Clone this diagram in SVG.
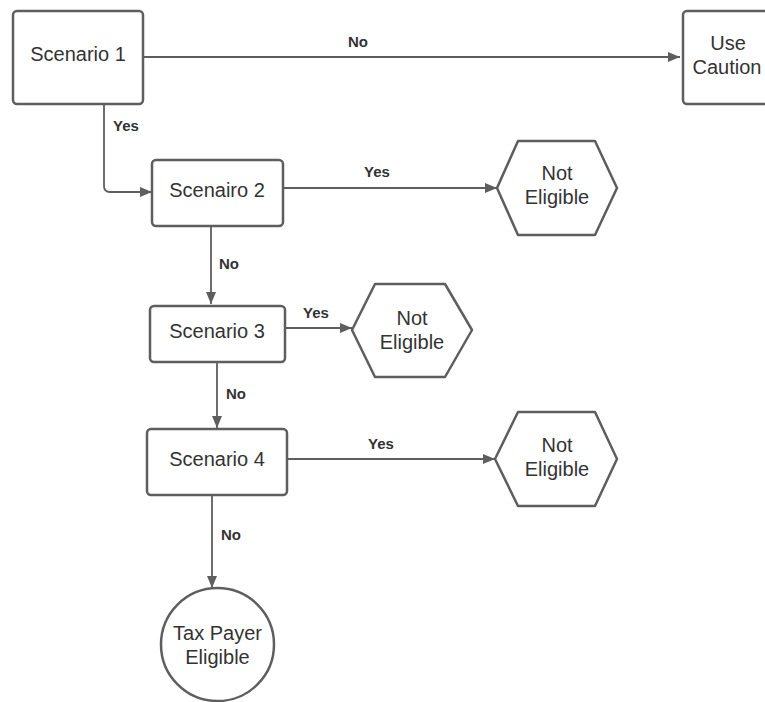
<svg xmlns="http://www.w3.org/2000/svg" width="765" height="702" viewBox="0 0 765 702">
<style>
.box{fill:#fff;stroke:#5e5e5e;stroke-width:2.5;stroke-linejoin:round}
.ln{fill:none;stroke:#5e5e5e;stroke-width:1.8}
.t{font-family:"Liberation Sans",Arial,sans-serif;font-size:20px;fill:#333;text-anchor:middle}
.lb{font-family:"Liberation Sans",Arial,sans-serif;font-size:15px;font-weight:bold;fill:#333;text-anchor:middle}
</style>
<defs>
<marker id="ah" viewBox="0 0 12 10" refX="12" refY="5" markerWidth="12" markerHeight="10" markerUnits="userSpaceOnUse" orient="auto">
<path d="M0,0 L12,5 L0,10 Z" fill="#5e5e5e"/>
</marker>
</defs>
<rect width="765" height="702" fill="#fff"/>
<g id="connectors">
<path class="ln" d="M143,57 H680" marker-end="url(#ah)"/>
<path class="ln" d="M104,104 V186 Q104,192 110,192 H152" marker-end="url(#ah)"/>
<path class="ln" d="M283,188 H497" marker-end="url(#ah)"/>
<path class="ln" d="M211,226 V304" marker-end="url(#ah)"/>
<path class="ln" d="M285,328 H352" marker-end="url(#ah)"/>
<path class="ln" d="M217,362 V428" marker-end="url(#ah)"/>
<path class="ln" d="M287,459 H495" marker-end="url(#ah)"/>
<path class="ln" d="M212,487 V588" marker-end="url(#ah)"/>
<text class="lb" x="358" y="47">No</text>
<text class="lb" x="126" y="131">Yes</text>
<text class="lb" x="377" y="177">Yes</text>
<text class="lb" x="229" y="269">No</text>
<text class="lb" x="316" y="318">Yes</text>
<text class="lb" x="236" y="399">No</text>
<text class="lb" x="381" y="449">Yes</text>
<text class="lb" x="231" y="540">No</text>
</g>
<g id="scenario1">
<rect class="box" x="13" y="11" width="130" height="93" rx="4"/>
<text class="t" x="78" y="61">Scenario 1</text>
</g>
<g id="use-caution">
<rect class="box" x="683" y="11" width="89" height="93" rx="4"/>
<text class="t" x="728" y="50">Use</text>
<text class="t" x="727" y="74">Caution</text>
</g>
<g id="scenario2">
<rect class="box" x="152" y="160" width="131" height="66" rx="4"/>
<text class="t" x="217" y="197">Scenairo 2</text>
</g>
<g id="not-eligible-1">
<polygon class="box" points="497,188 518,141 595,141 617,188 595,235 518,235"/>
<text class="t" x="557" y="180">Not</text>
<text class="t" x="557" y="204">Eligible</text>
</g>
<g id="scenario3">
<rect class="box" x="150" y="306" width="135" height="56" rx="4"/>
<text class="t" x="217" y="338">Scenario 3</text>
</g>
<g id="not-eligible-2">
<polygon class="box" points="352,330 375,284 445,284 472,330 445,377 375,377"/>
<text class="t" x="412" y="325">Not</text>
<text class="t" x="412" y="349">Eligible</text>
</g>
<g id="scenario4">
<rect class="box" x="147" y="429" width="140" height="66" rx="4"/>
<text class="t" x="217" y="466">Scenario 4</text>
</g>
<g id="not-eligible-3">
<polygon class="box" points="495,459 518,412 595,412 617,459 595,506 518,506"/>
<text class="t" x="557" y="452">Not</text>
<text class="t" x="557" y="476">Eligible</text>
</g>
<g id="tax-payer-eligible">
<circle class="box" cx="217.5" cy="644.5" r="56.5"/>
<text class="t" x="217.5" y="640">Tax Payer</text>
<text class="t" x="217.5" y="664">Eligible</text>
</g>
</svg>
